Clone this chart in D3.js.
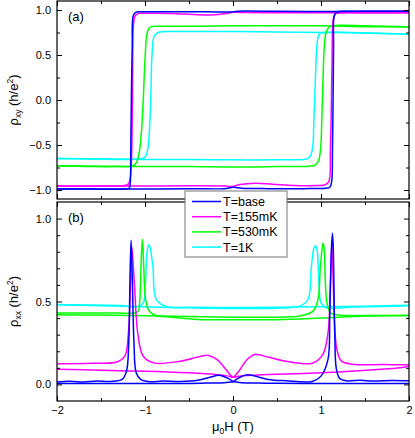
<!DOCTYPE html>
<html>
<head>
<meta charset="utf-8">
<script src="https://cdn.jsdelivr.net/npm/d3@7"></script>
<style>
  body { margin: 0; background: #fff; }
  svg { display: block; font-family: "Liberation Sans", Arial, sans-serif; }
</style>
</head>
<body>
<div id="chart"></div>
<script>
// temperatures, in legend order
var labels = ["T=base", "T=155mK", "T=530mK", "T=1K"];
var colors = ["#0000ff", "#ff00ff", "#00ff00", "#00ffff"];

// tick values
var xTicks = [-2, -1, 0, 1, 2];
var xMinor = [-1.5, -0.5, 0.5, 1.5];
var yTicksA = [-1.0, -0.5, 0.0, 0.5, 1.0];
var yMinorA = [-0.75, -0.25, 0.25, 0.75];
var yTicksB = [0.0, 0.5, 1.0];
var yMinorB = [0.1, 0.2, 0.3, 0.4, 0.6, 0.7, 0.8, 0.9];

// (a) rho_xy, [H (T), rho (h/e^2)], sweep down (+2 -> -2) and sweep up (-2 -> +2)
var rxyBaseDown = [[2.0, 0.985], [1.5, 0.985], [1.0, 0.983], [0.5, 0.985], [0.05, 0.986], [-0.02, 0.978], [-0.3, 0.98], [-0.8, 0.98], [-1.05, 0.98], [-1.11, 0.972], [-1.135, 0.93], [-1.145, 0.6], [-1.155, 0.0], [-1.162, -0.6], [-1.168, -0.93], [-1.18, -0.98], [-1.25, -0.99], [-1.6, -0.99], [-2.0, -0.99]];
var rxyBaseUp = [[-2.0, -0.99], [-1.5, -0.99], [-1.0, -0.99], [-0.5, -0.985], [-0.1, -0.985], [0.0, -0.97], [0.1, -0.98], [0.4, -0.985], [0.8, -0.985], [1.05, -0.98], [1.1, -0.97], [1.122, -0.9], [1.13, -0.6], [1.137, 0.0], [1.143, 0.6], [1.15, 0.93], [1.18, 0.98], [1.3, 0.985], [1.6, 0.985], [2.0, 0.985]];
var rxy155Down = [[2.0, 0.97], [1.5, 0.97], [1.0, 0.97], [0.5, 0.97], [0.1, 0.972], [0.0, 0.975], [-0.08, 0.96], [-0.25, 0.945], [-0.45, 0.95], [-0.7, 0.962], [-1.0, 0.963], [-1.08, 0.96], [-1.115, 0.93], [-1.13, 0.85], [-1.143, 0.0], [-1.155, -0.7], [-1.17, -0.88], [-1.19, -0.935], [-1.24, -0.952], [-1.5, -0.955], [-2.0, -0.955]];
var rxy155Up = [[-2.0, -0.955], [-1.5, -0.955], [-1.0, -0.955], [-0.5, -0.953], [-0.1, -0.955], [0.0, -0.96], [0.08, -0.94], [0.25, -0.925], [0.45, -0.935], [0.7, -0.95], [0.95, -0.95], [1.04, -0.944], [1.088, -0.91], [1.107, -0.556], [1.125, 0.37], [1.14, 0.9], [1.16, 0.955], [1.22, 0.968], [1.5, 0.97], [2.0, 0.97]];
var rxy530Down = [[2.0, 0.81], [1.5, 0.815], [1.0, 0.825], [0.5, 0.825], [0.0, 0.825], [-0.5, 0.82], [-0.85, 0.82], [-0.93, 0.815], [-0.96, 0.79], [-0.98, 0.72], [-1.0, 0.45], [-1.02, 0.0], [-1.04, -0.35], [-1.065, -0.58], [-1.1, -0.7], [-1.155, -0.735], [-1.3, -0.74], [-1.6, -0.74], [-2.0, -0.73]];
var rxy530Up = [[-2.0, -0.73], [-1.5, -0.735], [-1.0, -0.74], [-0.5, -0.74], [0.0, -0.745], [0.5, -0.74], [0.85, -0.735], [0.93, -0.725], [0.97, -0.68], [0.995, -0.55], [1.01, -0.185], [1.025, 0.3], [1.038, 0.6], [1.06, 0.76], [1.1, 0.815], [1.2, 0.83], [1.5, 0.825], [2.0, 0.815]];
var rxy1KDown = [[2.0, 0.73], [1.5, 0.745], [1.0, 0.75], [0.5, 0.755], [0.0, 0.76], [-0.5, 0.76], [-0.78, 0.76], [-0.85, 0.75], [-0.895, 0.71], [-0.92, 0.5], [-0.935, 0.0], [-0.948, -0.3], [-0.965, -0.52], [-0.99, -0.62], [-1.03, -0.65], [-1.2, -0.66], [-1.6, -0.655], [-2.0, -0.65]];
var rxy1KUp = [[-2.0, -0.65], [-1.5, -0.655], [-1.0, -0.66], [-0.5, -0.662], [0.0, -0.665], [0.5, -0.665], [0.8, -0.66], [0.86, -0.645], [0.9, -0.56], [0.92, -0.2], [0.935, 0.2], [0.95, 0.56], [0.965, 0.69], [0.985, 0.735], [1.03, 0.75], [1.3, 0.75], [1.7, 0.74], [2.0, 0.73]];

// (b) rho_xx, same sweeps
var rxxBaseDown = [[2.0, 0.006], [1.5, 0.006], [1.0, 0.006], [0.5, 0.007], [0.3, 0.008], [0.1, 0.01], [0.03, 0.015], [0.0, 0.018], [-0.05, 0.035], [-0.16, 0.055], [-0.25, 0.045], [-0.4, 0.025], [-0.6, 0.018], [-0.8, 0.02], [-0.95, 0.016], [-1.05, 0.03], [-1.1, 0.07], [-1.125, 0.25], [-1.145, 0.65], [-1.158, 0.87], [-1.17, 0.65], [-1.185, 0.25], [-1.21, 0.08], [-1.26, 0.03], [-1.4, 0.018], [-1.55, 0.02], [-1.7, 0.014], [-1.85, 0.019], [-2.0, 0.015]];
var rxxBaseUp = [[-2.0, 0.005], [-1.5, 0.005], [-1.0, 0.005], [-0.5, 0.006], [-0.3, 0.008], [-0.1, 0.01], [-0.03, 0.014], [0.0, 0.016], [0.05, 0.035], [0.16, 0.058], [0.25, 0.05], [0.4, 0.03], [0.6, 0.022], [0.9, 0.018], [1.0, 0.05], [1.08, 0.152], [1.099, 0.412], [1.118, 0.812], [1.13, 0.912], [1.14, 0.812], [1.156, 0.312], [1.175, 0.092], [1.213, 0.036], [1.29, 0.022], [1.45, 0.025], [1.6, 0.02], [1.8, 0.024], [2.0, 0.022]];
var rxx155Down = [[2.0, 0.11], [1.9, 0.1], [1.6, 0.088], [1.2, 0.075], [0.8, 0.066], [0.5, 0.062], [0.2, 0.055], [0.05, 0.048], [0.0, 0.044], [-0.08, 0.09], [-0.18, 0.15], [-0.28, 0.175], [-0.4, 0.165], [-0.6, 0.14], [-0.9, 0.13], [-1.02, 0.17], [-1.08, 0.3], [-1.12, 0.6], [-1.15, 0.83], [-1.165, 0.6], [-1.19, 0.3], [-1.23, 0.17], [-1.32, 0.135], [-1.6, 0.128], [-2.0, 0.125]];
var rxx155Up = [[-2.0, 0.092], [-1.5, 0.085], [-1.0, 0.08], [-0.5, 0.07], [-0.2, 0.06], [-0.05, 0.05], [0.0, 0.044], [0.08, 0.09], [0.16, 0.15], [0.25, 0.18], [0.4, 0.165], [0.6, 0.14], [0.9, 0.128], [1.02, 0.18], [1.08, 0.312], [1.107, 0.612], [1.125, 0.84], [1.14, 0.6], [1.156, 0.352], [1.18, 0.212], [1.23, 0.142], [1.36, 0.122], [1.7, 0.12], [2.0, 0.118]];
var rxx530Down = [[2.0, 0.416], [1.5, 0.412], [1.0, 0.4], [0.5, 0.39], [0.0, 0.39], [-0.4, 0.392], [-0.7, 0.405], [-0.9, 0.42], [-0.96, 0.45], [-0.995, 0.52], [-1.015, 0.72], [-1.03, 0.876], [-1.045, 0.72], [-1.06, 0.5], [-1.08, 0.44], [-1.13, 0.43], [-1.3, 0.43], [-2.0, 0.43]];
var rxx530Up = [[-2.0, 0.42], [-1.5, 0.418], [-1.0, 0.414], [-0.5, 0.41], [0.0, 0.405], [0.4, 0.405], [0.758, 0.412], [0.909, 0.442], [0.966, 0.512], [0.993, 0.711], [1.016, 0.831], [1.023, 0.852], [1.034, 0.831], [1.05, 0.612], [1.068, 0.492], [1.107, 0.432], [1.193, 0.418], [1.289, 0.416], [2.0, 0.416]];
var rxx1KDown = [[2.0, 0.478], [1.5, 0.472], [1.0, 0.468], [0.5, 0.466], [0.0, 0.464], [-0.5, 0.465], [-0.75, 0.468], [-0.871, 0.512], [-0.91, 0.71], [-0.94, 0.82], [-0.955, 0.842], [-0.974, 0.81], [-0.996, 0.61], [-1.02, 0.49], [-1.08, 0.47], [-1.3, 0.476], [-2.0, 0.48]];
var rxx1KUp = [[-2.0, 0.482], [-1.5, 0.475], [-1.0, 0.468], [-0.5, 0.462], [0.0, 0.458], [0.5, 0.46], [0.758, 0.472], [0.852, 0.512], [0.891, 0.711], [0.92, 0.822], [0.936, 0.836], [0.955, 0.812], [0.977, 0.612], [1.0, 0.492], [1.06, 0.462], [1.3, 0.465], [1.7, 0.47], [2.0, 0.475]];

var rxyCurves = [[rxyBaseDown, rxyBaseUp], [rxy155Down, rxy155Up], [rxy530Down, rxy530Up], [rxy1KDown, rxy1KUp]];
var rxxCurves = [[rxxBaseDown, rxxBaseUp], [rxx155Down, rxx155Up], [rxx530Down, rxx530Up], [rxx1KDown, rxx1KUp]];

var width = 415, height = 438;
var frameLeft = 57, frameRight = 409;

var svg = d3.select("#chart").append("svg")
  .attr("width", width)
  .attr("height", height);

var x = d3.scaleLinear().domain([-2, 2]).range([frameLeft, frameRight]);
var yA = d3.scaleLinear().domain([-1.1, 1.1]).range([199, 1]);
var yB = d3.scaleLinear().domain([-0.1, 1.1]).range([401, 202]);

function drawPanel(id, y, curves, yTicks, yMinor, showX, tag) {
  var top = y.range()[1], bottom = y.range()[0];
  var g = svg.append("g").attr("id", id);

  g.append("clipPath").attr("id", id + "-clip")
    .append("rect")
    .attr("x", frameLeft).attr("y", top)
    .attr("width", frameRight - frameLeft).attr("height", bottom - top);

  // lines, 1K first so base ends on top
  var line = d3.line()
    .x(function (d) { return x(d[0]); })
    .y(function (d) { return y(d[1]); })
    .curve(d3.curveCatmullRom.alpha(0.5));
  var plot = g.append("g").attr("clip-path", "url(#" + id + "-clip)");
  for (var i = curves.length - 1; i >= 0; i--) {
    curves[i].forEach(function (sweep) {
      plot.append("path")
        .datum(sweep)
        .attr("d", line)
        .attr("fill", "none")
        .attr("stroke", colors[i])
        .attr("stroke-width", 1.5)
        .attr("stroke-linejoin", "round");
    });
  }

  // axes with inward ticks on all four sides
  function addAxis(axis, tx, ty) {
    var a = g.append("g")
      .attr("transform", "translate(" + tx + "," + ty + ")")
      .call(axis);
    a.select(".domain").remove();
    a.selectAll("text")
      .attr("font-family", "Liberation Sans, Arial, sans-serif")
      .attr("font-size", 11)
      .attr("fill", "#000");
    a.selectAll("line").attr("stroke", "#000").attr("stroke-width", 1);
  }
  var fmtY = d3.format(".1f");
  addAxis(d3.axisLeft(y).tickValues(yTicks).tickFormat(fmtY).tickSizeInner(-5).tickSizeOuter(0).tickPadding(6), frameLeft, 0);
  addAxis(d3.axisLeft(y).tickValues(yMinor).tickFormat("").tickSizeInner(-3).tickSizeOuter(0), frameLeft, 0);
  addAxis(d3.axisRight(y).tickValues(yTicks).tickFormat("").tickSizeInner(-5).tickSizeOuter(0), frameRight, 0);
  addAxis(d3.axisRight(y).tickValues(yMinor).tickFormat("").tickSizeInner(-3).tickSizeOuter(0), frameRight, 0);
  addAxis(d3.axisTop(x).tickValues(xTicks).tickFormat("").tickSizeInner(-5).tickSizeOuter(0), 0, top);
  addAxis(d3.axisTop(x).tickValues(xMinor).tickFormat("").tickSizeInner(-3).tickSizeOuter(0), 0, top);
  addAxis(d3.axisBottom(x).tickValues(xTicks).tickFormat(showX ? d3.format("d") : "").tickSizeInner(-5).tickSizeOuter(0).tickPadding(5), 0, bottom);
  addAxis(d3.axisBottom(x).tickValues(xMinor).tickFormat("").tickSizeInner(-3).tickSizeOuter(0), 0, bottom);

  g.append("rect")
    .attr("x", frameLeft).attr("y", top)
    .attr("width", frameRight - frameLeft).attr("height", bottom - top)
    .attr("fill", "none")
    .attr("stroke", "#000")
    .attr("stroke-width", 1.2);

  g.append("text")
    .attr("x", frameLeft + 11).attr("y", top + 20)
    .attr("font-size", 13)
    .text(tag);
}

drawPanel("panel-a", yA, rxyCurves, yTicksA, yMinorA, false, "(a)");
drawPanel("panel-b", yB, rxxCurves, yTicksB, yMinorB, true, "(b)");

// axis titles
function yTitle(cy, sub) {
  var t = svg.append("text")
    .attr("transform", "translate(18," + cy + ") rotate(-90)")
    .attr("text-anchor", "middle")
    .attr("font-size", 13);
  t.append("tspan").text("\u03c1");
  t.append("tspan").attr("font-size", 8.5).attr("dy", 3).text(sub);
  t.append("tspan").attr("dy", -3).text(" (h/e");
  t.append("tspan").attr("font-size", 8.5).attr("dy", -5).text("2");
  t.append("tspan").attr("dy", 5).text(")");
}
yTitle(yA(0), "xy");
yTitle(yB(0.5), "xx");

var xt = svg.append("text")
  .attr("x", x(0)).attr("y", 431)
  .attr("text-anchor", "middle")
  .attr("font-size", 13);
xt.append("tspan").text("\u03bc");
xt.append("tspan").attr("font-size", 8.5).attr("dy", 3).text("0");
xt.append("tspan").attr("dy", -3).text("H (T)");

// legend
var legend = svg.append("g").attr("transform", "translate(185,191)");
legend.append("rect")
  .attr("width", 102).attr("height", 66)
  .attr("fill", "#fff")
  .attr("stroke", "#777")
  .attr("stroke-width", 1);
labels.forEach(function (name, i) {
  var cy = 10.5 + i * 15.2;
  legend.append("line")
    .attr("x1", 7).attr("x2", 36)
    .attr("y1", cy).attr("y2", cy)
    .attr("stroke", colors[i])
    .attr("stroke-width", 1.5);
  legend.append("text")
    .attr("x", 38).attr("y", cy + 4.5)
    .attr("font-size", 12.5)
    .text(name);
});
</script>
</body>
</html>
